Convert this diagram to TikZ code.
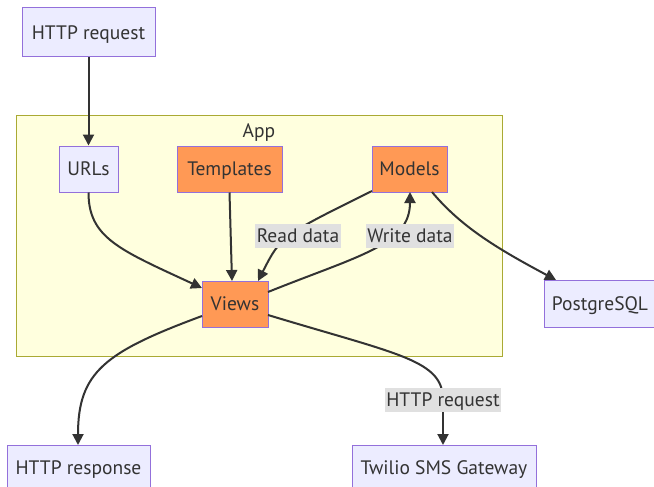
\documentclass[tikz,border=0pt]{standalone}
\usepackage{fontspec}
\setmainfont{PT Sans}
\usetikzlibrary{arrows.meta}
\definecolor{lav}{HTML}{ECECFF}
\definecolor{lavb}{HTML}{9370DB}
\definecolor{org}{HTML}{FF9955}
\definecolor{clf}{HTML}{FFFFDE}
\definecolor{clb}{HTML}{AAAA33}
\definecolor{ink}{HTML}{333333}
\definecolor{lbl}{HTML}{E0E0E0}
\begin{document}
\begin{tikzpicture}[x=1pt,y=-1pt,
  font=\fontsize{19.5}{23}\selectfont,
  every node/.style={text height=17pt, text depth=3.4pt},
  box/.style={draw=lavb, line width=1pt, fill=lav, text=ink, inner sep=0pt, minimum height=46pt},
  hot/.style={box, fill=org},
  elabel/.style={fill=lbl, text=ink, inner sep=1.5pt},
  arr/.style={draw=ink, line width=2pt, -{Triangle[length=11pt,width=11pt]}},
  ln/.style={draw=ink, line width=2pt}]
\useasboundingbox (0,0) rectangle (654,487);
\fill[white] (0,0) rectangle (654,487);
% cluster
\node[draw=clb, line width=1pt, fill=clf, minimum width=486pt, minimum height=240pt, inner sep=0pt, text height=0pt, text depth=0pt] (app) at (259,236) {};
\node[text=ink] (applbl) at (259,131) {App};
% nodes
\node[box, minimum width=133pt, minimum height=49pt] (req) at (88.5,32.5) {HTTP request};
\node[box, minimum width=59pt] (urls) at (88.5,169) {URLs};
\node[hot, minimum width=105pt] (tmpl) at (229.5,169) {Templates};
\node[hot, minimum width=75pt] (models) at (409.5,169) {Models};
\node[hot, minimum width=66pt] (views) at (235,304) {Views};
\node[box, minimum width=112pt, minimum height=47pt] (pg) at (600,303.5) {PostgreSQL};
\node[box, minimum width=143pt] (resp) at (78.5,468) {HTTP response};
\node[box, minimum width=184pt] (twilio) at (444,468) {Twilio SMS Gateway};
% edge anchors
\coordinate (vin1) at (202,288);
\coordinate (vout1) at (202,316);
\coordinate (vout2) at (268,315);
\coordinate (vout3) at (268,292);
\coordinate (vin2) at (258,281);
\coordinate (min1) at (410,192);
\coordinate (mout1) at (372,191);
\coordinate (mout2) at (432,192);
\coordinate (pgin) at (556,280);
\coordinate (twin) at (443,445);
\coordinate (respin) at (78,445);
% edges
\draw[arr] (req.south) -- (urls.north);
\draw[arr] (urls.south) .. controls (88.5,238) and (120,250) .. (vin1);
\draw[arr] (tmpl.south) -- (232,281);
\draw[arr] (mout1) .. controls (281,236) .. (vin2);
\draw[arr] (vout3) .. controls (360,255) and (410,245) .. (min1);
\draw[arr] (mout2) .. controls (462,228) and (500,250) .. (pgin);
\draw[arr] (vout1) .. controls (105,352) and (78,372) .. (respin);
\draw[ln] (vout2) .. controls (400,355) and (443,360) .. (443,400);
\draw[arr] (443,398) -- (twin);
% edge labels
\node[elabel] (lread) at (298,236) {Read data};
\node[elabel] (lwrite) at (410,236) {Write data};
\node[elabel] (lhttp) at (443,400) {HTTP request};
\end{tikzpicture}
\end{document}
